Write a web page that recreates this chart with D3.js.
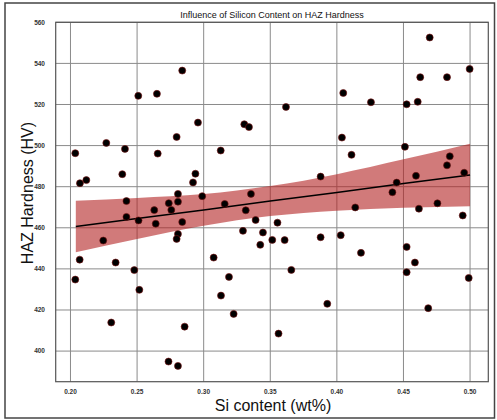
<!DOCTYPE html>
<html><head><meta charset="utf-8">
<script src="https://cdn.jsdelivr.net/npm/d3@7/dist/d3.min.js"></script>
<style>html,body{margin:0;padding:0;background:#fff;}svg{display:block;}</style>
</head><body><svg id="c" width="497" height="420"></svg>
<script>
const siContent = [0.2839,0.2509,0.2649,0.2957,0.3305,0.3340,0.2797,0.2269,0.2409,0.2036,0.2655,0.3128,0.2389,0.2938,0.2920,0.2071,0.2119,0.2807,0.2989,0.3355,0.2420,
0.4697,0.4997,0.4626,0.4827,0.4048,0.4256,0.4524,0.4607,0.3618,0.4038,0.4511,0.4110,0.4848,0.4827,0.3878,0.4594,0.4956,0.4449,0.4417,
0.2738,0.2807,0.3158,0.2629,0.2757,0.2420,0.2511,0.2640,0.2839,0.3316,0.3390,0.3554,0.2246,0.3295,0.3445,0.3515,0.3425,0.2807,0.2797,0.2069,0.2339,0.3075,0.2036,0.2479,0.3190,0.2517,0.3130,0.3225,0.2306,0.2857,0.3562,0.2736,0.2807,
0.4138,0.4616,0.4755,0.4945,0.3608,0.3878,0.4029,0.4524,0.4181,0.4586,0.3658,0.4524,0.4990,0.3928,0.4686];
const hazHardness = [536.5,524.2,525.2,511.2,510.4,509.0,504.2,501.3,498.4,496.3,496.1,497.6,486.1,486.3,482.1,481.7,483.2,476.5,475.4,476.5,473.0,
552.6,537.3,533.3,533.3,525.6,521.1,520.1,521.3,518.8,503.9,499.4,495.5,494.8,490.4,484.9,485.3,486.8,482.0,477.3,
472.0,472.7,471.6,468.6,468.7,465.3,463.6,462.0,462.8,468.5,463.8,462.5,453.8,458.5,457.7,454.1,451.7,457.0,454.6,444.5,443.1,445.5,434.8,439.4,436.1,429.8,427.0,418.1,413.9,411.9,408.5,394.9,392.8,
469.9,469.3,471.9,466.0,454.0,455.4,456.4,450.7,447.8,443.1,439.5,438.4,435.6,423.0,420.9];
const fitX = [0.204,0.25,0.30,0.35,0.40,0.45,0.50];
const fitY = [460.6,464.5,468.7,473.0,477.2,481.5,485.7];
const ciLower = [448.1,454.6,461.0,465.7,468.3,469.7,470.5];
const ciUpper = [473.1,474.5,476.4,480.3,486.1,493.3,500.9];
const xTicks = [0.20,0.25,0.30,0.35,0.40,0.45,0.50];
const yTicks = [400,420,440,460,480,500,520,540,560];

const svg = d3.select('#c');
const L=55.7,R=488.3,T=22.3,B=381.7;
const x = d3.scaleLinear().domain([0.1889,0.5137]).range([L,R]);
const y = d3.scaleLinear().domain([385.1,560]).range([B,T]);

svg.append('rect').attr('x',5).attr('y',3).attr('width',489.5).attr('height',415)
  .attr('fill','none').attr('stroke','#444').attr('stroke-width',1.5);

// grid
const g = svg.append('g');
g.selectAll('.vx').data(xTicks).join('line')
  .attr('x1',d=>x(d)).attr('x2',d=>x(d)).attr('y1',T).attr('y2',B)
  .attr('stroke','#8a8a8a').attr('stroke-width',1);
g.selectAll('.hy').data(yTicks).join('line')
  .attr('x1',L).attr('x2',R).attr('y1',d=>y(d)).attr('y2',d=>y(d))
  .attr('stroke','#8a8a8a').attr('stroke-width',1);

// CI band
const band = fitX.map((d,i)=>({x:d,lo:ciLower[i],hi:ciUpper[i],f:fitY[i]}));
svg.append('path').datum(band)
  .attr('d',d3.area().x(d=>x(d.x)).y0(d=>y(d.lo)).y1(d=>y(d.hi)).curve(d3.curveMonotoneX))
  .attr('fill','#b22222').attr('fill-opacity',0.6);
svg.append('path').datum(band)
  .attr('d',d3.line().x(d=>x(d.x)).y(d=>y(d.f)))
  .attr('fill','none').attr('stroke','#000').attr('stroke-width',1.5);

// points
svg.append('g').selectAll('circle').data(siContent.map((d,i)=>[d,hazHardness[i]])).join('circle')
  .attr('cx',d=>x(d[0])).attr('cy',d=>y(d[1])).attr('r',3.5)
  .attr('fill','#000').attr('stroke','#7a1010').attr('stroke-width',0.6);

// frame
svg.append('rect').attr('x',L).attr('y',T).attr('width',R-L).attr('height',B-T)
  .attr('fill','none').attr('stroke','#555').attr('stroke-width',1.2);

// tick labels
const font = 'Liberation Sans, Arial, sans-serif';
svg.append('g').selectAll('text').data(xTicks).join('text')
  .attr('x',d=>x(d)).attr('y',394).attr('text-anchor','middle')
  .attr('font-family',font).attr('font-size',6.5).attr('font-weight','bold').attr('fill','#333')
  .text(d=>d3.format('.2f')(d));
svg.append('g').selectAll('text').data(yTicks).join('text')
  .attr('x',45).attr('y',d=>y(d)+2.2).attr('text-anchor','end')
  .attr('font-family',font).attr('font-size',6.5).attr('font-weight','bold').attr('fill','#333')
  .text(d=>d);

// labels
svg.append('text').attr('x',272).attr('y',18).attr('text-anchor','middle')
  .attr('font-family',font).attr('font-size',9).attr('fill','#111')
  .text('Influence of Silicon Content on HAZ Hardness');
svg.append('text').attr('x',273).attr('y',411).attr('text-anchor','middle')
  .attr('font-family',font).attr('font-size',16).attr('fill','#111')
  .text('Si content (wt%)');
svg.append('text').attr('transform','translate(33,193) rotate(-90)').attr('text-anchor','middle')
  .attr('font-family',font).attr('font-size',16).attr('fill','#111')
  .text('HAZ Hardness (HV)');
</script></body></html>
